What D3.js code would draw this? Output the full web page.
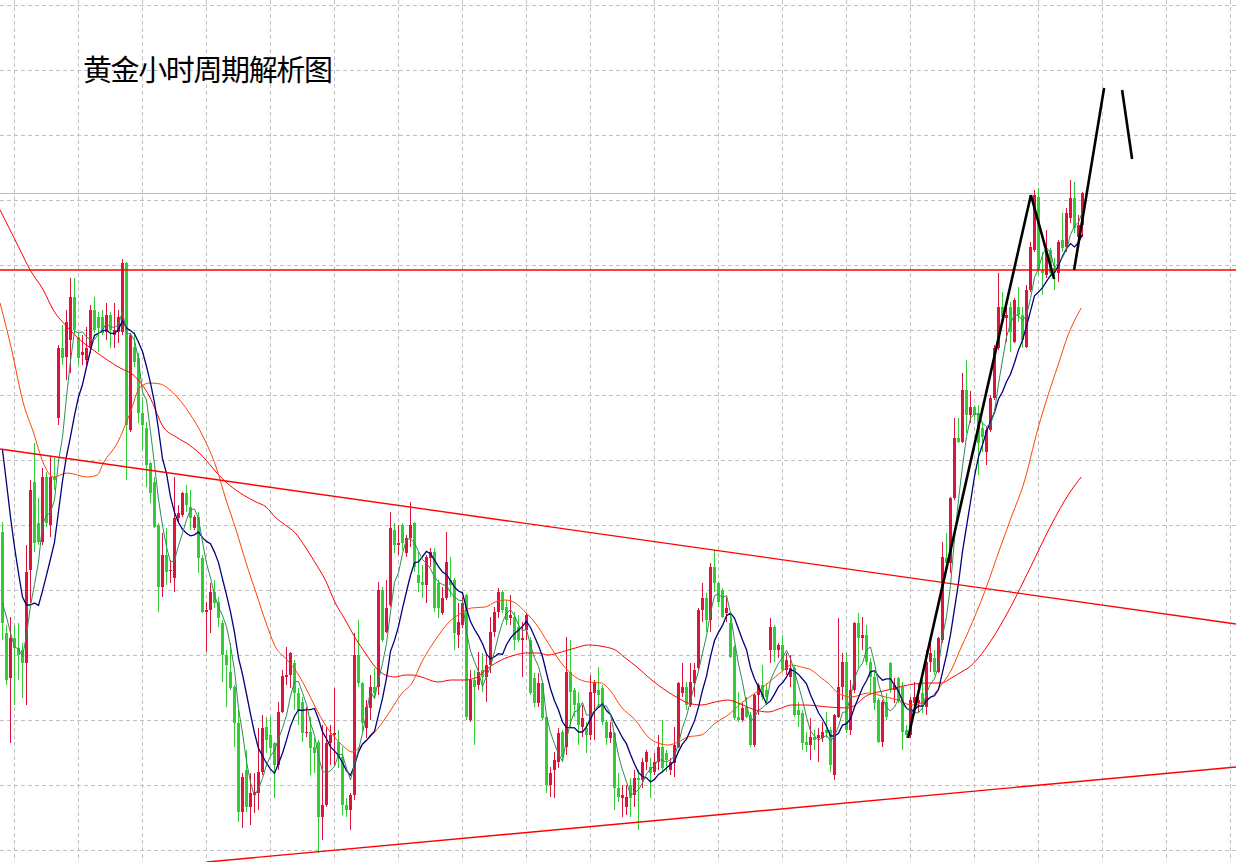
<!DOCTYPE html>
<html><head><meta charset="utf-8">
<script src="https://cdn.jsdelivr.net/npm/d3@7"></script>
<style>html,body{margin:0;padding:0;background:#fff;overflow:hidden}</style>
</head><body>
<svg id="chart" width="1236" height="862"></svg>
<script>
// ---- hourly gold candles (index 0..270) ----
const opens = [
2333.0,2322.9,2318.4,2322.4,2321.4,2321.2,2319.9,2329.2,2338.0,2333.9,2332.0,2338.5,2333.7,2338.5,2344.4,2351.4,2350.5,2352.2,2356.5,2352.5,
2350.7,2350.2,2351.4,2355.2,2354.5,2354.5,2353.0,2354.7,2352.7,2353.0,2353.0,2359.9,2343.2,2351.5,2350.4,2344.9,2343.4,2339.9,2338.0,2333.7,
2327.5,2330.7,2329.1,2328.4,2334.4,2334.7,2336.9,2335.5,2333.4,2334.5,2330.4,2325.0,2325.2,2327.0,2326.0,2323.9,2320.7,2319.0,2317.5,2313.9,
2305.0,2309.2,2305.5,2306.7,2306.9,2309.0,2313.5,2312.7,2311.9,2309.7,2315.0,2318.5,2318.7,2319.9,2316.9,2316.0,2312.9,2313.0,2311.5,2312.0,
2304.5,2305.7,2311.9,2312.7,2312.0,2310.5,2305.7,2305.2,2306.7,2320.7,2317.9,2313.4,2315.4,2317.5,2317.5,2327.2,2323.0,2325.7,2333.2,2331.7,
2333.7,2330.9,2332.4,2333.9,2328.7,2328.0,2327.7,2330.4,2331.0,2327.9,2324.9,2326.4,2328.2,2328.2,2322.7,2323.7,2326.7,2314.2,2318.2,2317.7,
2319.2,2318.5,2319.7,2323.0,2325.0,2327.0,2325.5,2324.4,2324.5,2323.5,2322.2,2323.2,2322.2,2318.4,2315.9,2317.9,2314.5,2307.7,2309.2,2310.0,
2313.0,2311.5,2319.0,2317.2,2315.9,2313.5,2313.4,2312.7,2316.9,2317.2,2317.4,2314.0,2312.4,2312.9,2307.4,2306.4,2305.5,2307.7,2306.7,2308.4,
2308.2,2310.0,2309.5,2309.0,2310.0,2311.5,2310.9,2309.2,2309.9,2311.5,2316.9,2317.5,2315.7,2317.9,2319.4,2325.2,2326.4,2324.2,2329.5,2327.9,
2327.2,2324.9,2323.9,2321.5,2314.5,2314.2,2315.5,2314.7,2311.7,2316.7,2317.7,2317.2,2321.2,2323.5,2321.2,2321.7,2319.2,2318.5,2319.4,2315.2,
2314.9,2312.0,2311.7,2312.5,2312.4,2312.4,2313.2,2313.2,2308.7,2314.5,2317.5,2320.0,2313.2,2317.2,2323.9,2322.4,2322.7,2320.0,2318.5,2316.2,
2312.0,2316.0,2319.9,2317.2,2318.4,2317.5,2313.2,2312.7,2315.9,2315.9,2316.9,2315.5,2320.0,2320.4,2319.0,2322.2,2330.4,2329.9,2336.4,2342.4,
2342.0,2347.2,2344.7,2345.5,2344.9,2343.4,2341.0,2343.2,2346.4,2351.4,2355.5,2354.4,2355.5,2352.0,2355.5,2354.7,2351.5,2357.2,2361.2,2366.5,
2359.2,2358.7,2361.2,2359.4,2358.9,2362.2,2361.5,2364.4,2366.4,2362.5,2363.7];
const highs = [
2334.0,2323.7,2324.5,2323.7,2323.9,2321.9,2331.7,2338.2,2341.9,2336.4,2339.4,2339.0,2340.5,2340.4,2351.7,2353.7,2355.2,2358.4,2358.4,2352.9,
2352.7,2353.5,2355.7,2356.5,2355.0,2355.2,2355.9,2355.0,2355.9,2355.2,2360.3,2360.0,2352.9,2353.0,2350.9,2346.5,2344.0,2340.0,2338.5,2333.9,
2332.9,2333.4,2330.2,2338.5,2335.7,2337.0,2337.7,2337.2,2334.7,2335.0,2330.7,2326.0,2327.9,2328.2,2326.5,2324.2,2321.2,2321.9,2317.7,2315.2,
2308.9,2311.2,2308.9,2308.9,2313.4,2314.7,2314.5,2314.5,2312.0,2316.0,2319.2,2321.5,2321.0,2320.2,2317.4,2316.5,2315.5,2314.5,2312.4,2312.2,
2313.7,2313.5,2313.7,2317.4,2313.2,2311.5,2306.4,2306.9,2322.9,2324.2,2318.0,2316.2,2318.7,2319.4,2328.0,2327.5,2328.2,2335.0,2333.9,2333.7,
2333.9,2332.7,2336.0,2334.0,2331.0,2329.7,2330.7,2331.4,2331.4,2328.2,2327.5,2333.0,2330.5,2328.4,2325.9,2326.5,2326.8,2319.2,2319.2,2321.0,
2320.9,2320.9,2324.5,2325.5,2327.4,2327.2,2326.2,2326.7,2325.0,2324.7,2324.0,2324.9,2322.5,2318.9,2318.9,2318.0,2314.7,2309.5,2311.0,2313.4,
2313.2,2322.5,2322.2,2317.4,2317.0,2315.7,2314.0,2318.7,2318.2,2319.5,2317.7,2314.2,2314.0,2313.0,2308.9,2307.7,2307.7,2308.4,2309.2,2309.2,
2310.4,2311.2,2310.4,2310.9,2312.7,2314.2,2311.2,2310.4,2313.5,2318.0,2319.9,2318.0,2319.9,2319.9,2325.4,2327.9,2326.9,2329.9,2331.2,2328.0,
2327.4,2326.5,2325.0,2321.7,2317.0,2315.9,2316.5,2315.0,2316.9,2317.9,2319.7,2317.9,2324.4,2323.7,2321.9,2322.7,2320.9,2320.7,2319.7,2316.0,
2315.2,2313.0,2314.4,2313.2,2313.4,2314.0,2315.0,2313.5,2314.8,2324.4,2320.9,2320.9,2318.2,2324.0,2324.9,2324.5,2323.7,2320.4,2319.0,2316.4,
2316.2,2316.9,2320.0,2318.4,2318.5,2318.0,2313.7,2316.5,2318.0,2317.9,2318.2,2321.2,2322.5,2321.2,2322.5,2332.0,2332.9,2336.5,2344.4,2344.4,
2348.9,2350.2,2347.1,2345.7,2345.7,2344.0,2343.5,2346.7,2351.7,2358.9,2357.0,2356.0,2356.0,2356.4,2357.5,2355.5,2357.7,2362.0,2367.2,2367.4,
2361.0,2363.2,2361.4,2360.4,2362.2,2364.9,2365.4,2368.2,2368.0,2364.7,2367.0];
const lows = [
2322.2,2317.7,2311.9,2315.7,2318.2,2316.4,2315.7,2325.9,2331.0,2331.7,2331.7,2333.5,2332.5,2337.2,2343.7,2349.7,2348.2,2348.9,2352.9,2349.7,
2349.7,2349.7,2350.9,2352.9,2351.0,2352.7,2352.2,2351.4,2351.4,2351.9,2352.7,2338.2,2343.0,2349.5,2343.9,2341.2,2337.5,2335.9,2333.4,2325.0,
2326.5,2327.7,2327.9,2327.0,2333.9,2334.5,2335.0,2333.2,2333.2,2328.9,2324.9,2321.0,2322.9,2325.4,2323.5,2318.0,2315.5,2317.2,2311.5,2304.0,
2303.4,2305.0,2303.7,2304.9,2305.2,2308.7,2310.9,2310.7,2306.4,2309.2,2314.9,2317.7,2317.4,2315.2,2313.7,2312.0,2312.5,2308.7,2308.9,2300.9,
2302.2,2305.5,2309.7,2309.7,2309.4,2304.7,2304.5,2303.2,2306.2,2317.5,2313.0,2312.4,2314.2,2316.4,2316.7,2322.0,2322.9,2325.5,2330.9,2330.7,
2331.2,2330.5,2331.5,2329.0,2327.0,2326.4,2325.9,2329.5,2325.0,2324.4,2324.7,2326.2,2326.5,2321.2,2321.4,2323.4,2314.2,2314.0,2311.7,2317.2,
2317.0,2316.0,2318.9,2322.5,2324.4,2324.9,2323.7,2323.7,2321.2,2322.0,2318.5,2322.2,2316.7,2315.5,2315.5,2314.2,2306.9,2306.5,2306.4,2309.4,
2310.2,2310.7,2313.5,2314.5,2311.7,2312.5,2310.9,2312.2,2312.2,2315.5,2313.7,2311.7,2311.9,2305.2,2306.0,2304.5,2304.7,2304.5,2305.5,2303.2,
2307.4,2309.2,2306.4,2308.7,2309.2,2308.9,2309.0,2308.7,2308.5,2311.4,2316.5,2315.2,2315.5,2316.5,2319.2,2324.0,2323.0,2323.0,2327.0,2325.5,
2324.4,2324.0,2320.4,2314.2,2314.0,2314.0,2314.4,2311.5,2311.5,2314.7,2316.2,2315.7,2319.9,2320.0,2320.4,2319.0,2318.7,2317.5,2314.5,2313.5,
2311.2,2311.0,2310.2,2311.2,2310.0,2312.0,2312.4,2309.0,2308.2,2314.4,2316.2,2312.9,2312.7,2316.9,2319.4,2321.2,2319.7,2316.9,2315.2,2311.9,
2311.5,2314.2,2316.9,2315.9,2315.9,2311.2,2312.4,2312.4,2315.2,2315.0,2314.9,2314.7,2319.0,2318.7,2318.9,2321.9,2329.2,2328.9,2336.2,2341.9,
2341.9,2342.9,2343.9,2344.2,2338.7,2341.0,2339.7,2343.0,2346.2,2351.2,2353.9,2352.0,2351.0,2351.9,2354.0,2351.4,2351.4,2357.0,2361.0,2358.7,
2356.7,2358.4,2358.5,2357.2,2358.0,2361.0,2361.0,2363.9,2362.9,2362.4,2362.5];
const closes = [
2323.9,2318.2,2322.4,2321.4,2320.7,2319.9,2329.0,2337.2,2331.9,2332.0,2338.5,2333.9,2338.5,2338.2,2351.4,2350.4,2354.0,2356.5,2353.2,2350.4,
2351.0,2351.4,2355.2,2353.2,2353.4,2352.9,2354.7,2353.2,2353.2,2354.5,2359.9,2343.7,2352.7,2350.0,2344.9,2343.7,2339.7,2336.9,2333.5,2327.5,
2330.7,2329.0,2329.2,2334.4,2334.9,2336.9,2335.7,2334.4,2334.5,2330.4,2325.0,2325.2,2327.0,2325.9,2324.4,2320.7,2319.7,2317.4,2313.9,2305.0,
2308.5,2305.5,2306.9,2307.0,2309.0,2313.4,2312.2,2311.4,2309.7,2315.0,2318.6,2318.7,2320.9,2316.9,2315.2,2312.9,2313.0,2311.4,2310.9,2304.5,
2305.7,2311.9,2312.7,2312.9,2310.5,2305.7,2305.2,2306.7,2320.7,2317.9,2313.9,2315.5,2317.5,2316.9,2327.2,2322.2,2325.4,2333.4,2331.7,2331.9,
2331.9,2332.4,2333.7,2329.5,2327.9,2327.7,2330.5,2331.0,2325.4,2325.4,2326.4,2330.0,2327.7,2322.9,2324.0,2325.9,2314.5,2318.2,2317.5,2319.0,
2318.5,2319.7,2323.0,2325.0,2327.0,2325.2,2324.2,2324.7,2322.2,2322.2,2322.4,2324.7,2316.9,2315.9,2317.9,2314.4,2307.7,2308.9,2310.2,2312.9,
2310.5,2319.0,2317.0,2315.7,2313.7,2314.4,2312.7,2317.0,2317.9,2316.7,2314.0,2312.4,2313.0,2307.4,2306.5,2306.7,2306.5,2306.4,2308.4,2308.2,
2310.0,2311.0,2308.9,2310.0,2311.5,2309.4,2310.2,2310.0,2311.7,2317.9,2317.5,2315.7,2318.0,2319.2,2325.2,2326.4,2324.2,2329.5,2327.9,2326.0,
2324.5,2325.4,2320.5,2314.4,2314.2,2315.4,2314.5,2311.7,2316.7,2317.7,2316.5,2316.5,2323.5,2321.2,2321.7,2319.2,2320.2,2319.4,2314.7,2314.7,
2311.9,2311.7,2312.5,2312.2,2312.7,2313.0,2312.9,2309.7,2314.7,2317.5,2320.0,2313.2,2317.2,2323.9,2322.4,2322.7,2320.0,2318.5,2315.9,2312.0,
2316.0,2314.5,2317.2,2317.7,2316.2,2313.0,2312.7,2316.2,2316.5,2316.2,2315.5,2320.0,2320.9,2319.0,2322.4,2330.5,2329.9,2336.4,2342.4,2342.0,
2347.2,2344.7,2345.5,2344.7,2341.9,2342.5,2343.2,2346.4,2351.4,2355.5,2354.5,2354.7,2353.0,2356.2,2354.7,2352.2,2357.2,2361.5,2366.7,2359.2,
2358.9,2361.0,2358.9,2359.0,2362.0,2361.4,2364.9,2366.4,2363.4,2363.7,2366.9];

// fast averages: values before the first full window
const ma5Lead = [2325.9, 2324.5, 2322.9, 2321.5];
const ma10Lead = [2341.2, 2337.9, 2334.5, 2331.5, 2328.9, 2326.5, 2325.7, 2325.7, 2325.9];

// slow averages: [bar index, price]
const maMidPoints = [
[-0.6,2355.9],[2.3,2351.2],[5.2,2345.9],[7.7,2343.0],[10.2,2339.9],[12.7,2338.5],[16.2,2338.9],[21.2,2338.5],[23.7,2338.7],[25.2,2339.9],
[28.7,2341.9],[31.9,2344.9],[34.4,2347.5],[36.9,2347.9],[39.4,2347.8],[42.7,2346.9],[46.7,2344.9],[50.2,2342.5],[53.4,2339.5],[55.9,2336.2],
[58.4,2333.2],[60.9,2329.9],[63.4,2326.9],[65.9,2323.9],[68.4,2321.4],[70.7,2320.4],[73.2,2319.2],[75.7,2317.5],[78.2,2315.5],[80.7,2313.7],
[83.2,2312.4],[85.4,2311.5],[87.4,2311.0],[89.9,2311.7],[92.4,2312.7],[94.9,2313.9],[97.4,2315.4],[99.9,2316.9],[102.4,2317.9],[104.7,2319.9],
[108.2,2322.2],[111.4,2323.9],[114.7,2324.9],[117.2,2325.4],[120.7,2325.5],[123.2,2326.0],[125.7,2326.2],[128.2,2325.9],[130.7,2325.0],[133.2,2323.9],
[136.4,2321.9],[139.7,2319.9],[143.2,2318.5],[146.4,2318.0],[149.7,2317.9],[152.2,2317.0],[154.7,2315.5],[158.2,2314.2],[161.4,2312.5],[163.9,2311.9],
[166.4,2311.7],[168.9,2312.0],[171.4,2312.5],[174.7,2312.7],[178.2,2313.9],[181.4,2314.7],[184.7,2315.9],[188.2,2316.9],[191.4,2317.9],[194.7,2319.0],
[197.2,2319.7],[199.7,2319.5],[202.2,2319.2],[204.7,2318.4],[206.4,2317.9],[208.9,2316.9],[212.2,2316.5],[216.4,2316.9],[220.7,2316.5],[223.9,2316.2],
[227.2,2315.7],[229.7,2315.9],[232.2,2316.5],[234.7,2317.7],[237.2,2319.2],[239.7,2321.5],[241.4,2323.0],[245.7,2327.2],[249.4,2331.4],[252.4,2334.7],
[255.2,2337.7],[258.9,2343.4],[261.4,2346.7],[263.9,2349.7],[266.4,2352.7],[269.7,2355.4]];
const maSlowPoints = [
[-0.6,2365.2],[4.4,2361.2],[6.9,2359.2],[10.2,2357.2],[12.7,2355.2],[16.2,2353.5],[19.4,2352.2],[22.7,2351.2],[26.2,2350.2],[29.4,2349.4],
[32.7,2348.7],[36.7,2346.6],[40.2,2343.5],[43.4,2342.5],[46.7,2341.7],[50.2,2340.5],[53.4,2339.0],[56.7,2337.7],[60.2,2336.7],[63.4,2336.0],
[65.9,2335.5],[68.4,2334.4],[70.7,2333.7],[73.2,2332.9],[75.7,2331.5],[78.2,2329.9],[80.7,2328.2],[83.2,2325.9],[85.7,2324.2],[88.2,2322.4],
[90.7,2320.9],[93.2,2319.5],[95.7,2318.7],[98.2,2318.5],[100.7,2318.7],[102.4,2318.7],[104.7,2318.5],[108.9,2318.0],[112.2,2318.2],[115.7,2318.2],
[118.2,2318.4],[121.4,2319.4],[124.7,2320.2],[128.2,2320.7],[130.7,2320.9],[133.9,2320.9],[136.4,2320.7],[139.7,2321.0],[143.2,2321.4],[146.4,2321.7],
[150.7,2321.5],[153.2,2321.2],[155.7,2320.4],[158.9,2319.4],[161.4,2318.5],[163.9,2317.7],[166.4,2317.0],[168.9,2316.4],[171.4,2315.9],[174.7,2315.7],
[178.2,2316.0],[181.4,2316.2],[183.9,2315.9],[188.2,2315.2],[191.4,2315.0],[194.7,2315.4],[197.2,2315.7],[200.7,2315.7],[206.4,2315.5],[211.4,2315.4],
[216.4,2316.7],[221.4,2317.2],[226.4,2317.7],[231.4,2317.9],[234.7,2317.9],[237.2,2318.4],[239.7,2319.0],[241.4,2319.4],[246.9,2322.0],[251.9,2325.4],
[256.9,2329.4],[261.9,2333.5],[266.9,2337.0],[269.7,2338.5]];

// drawn objects: [bar index, price]
const upperTrend = [[-0.6,2341.3],[308.4,2323.8]];
const lowerTrend = [[51.1,2300.0],[308.4,2309.5]];
const blackStrokes = [
  [[226.4,2312.4],[257.1,2366.7]],
  [[257.1,2366.7],[262.9,2358.3]],
  [[267.9,2359.2],[275.4,2377.4]],
  [[279.9,2377.2],[282.4,2370.3]]
];
const resistancePrice = 2359.2;
const greyLinePrice = 2366.9;
const hGridPrices = [2385.7,2379.2,2372.7,2366.2,2359.7,2353.2,2346.7,2340.2,2333.7,2327.2,2320.7,2314.2,2307.7,2301.2];
const vGridBars = [2.875,18.875,34.875,50.875,66.875,82.875,98.875,114.875,130.875,146.875,162.875,178.875,194.875,210.875,226.875,242.875,258.875,274.875,290.875,306.875];
const titleText = "黄金小时周期解析图";

// ---- drawing ----
const W = 1236, H = 862;
const svg = d3.select("#chart");
svg.append("rect").attr("width", W).attr("height", H).attr("fill", "#fff");

const x = d3.scaleLinear().domain([0, 270]).range([2.5, 1082.5]);
const y = d3.scaleLinear().domain([2300, 2386.2]).range([862, 0]);

const bars = d3.range(closes.length).map(i => ({i, o: opens[i], h: highs[i], l: lows[i], c: closes[i]}));

// grid
const grid = svg.append("g").attr("stroke", "#c0c0c0").attr("stroke-width", 1).attr("stroke-dasharray", "4,3");
grid.selectAll("line.h").data(hGridPrices).join("line").attr("class", "h")
  .attr("x1", 0).attr("x2", W).attr("y1", d => Math.round(y(d)) + 0.5).attr("y2", d => Math.round(y(d)) + 0.5);
grid.selectAll("line.v").data(vGridBars).join("line").attr("class", "v")
  .attr("y1", 0).attr("y2", H).attr("x1", d => Math.round(x(d)) + 0.5).attr("x2", d => Math.round(x(d)) + 0.5);

// grey price line
svg.append("line").attr("x1", 0).attr("x2", W)
  .attr("y1", Math.round(y(greyLinePrice)) + 0.5).attr("y2", Math.round(y(greyLinePrice)) + 0.5)
  .attr("stroke", "#bdbdbd").attr("stroke-width", 1.2);

// candles
const UP = "#dc143c", DN = "#32cd32";
const cg = svg.append("g");
cg.selectAll("line.wick").data(bars).join("line").attr("class", "wick")
  .attr("x1", d => x(d.i)).attr("x2", d => x(d.i))
  .attr("y1", d => y(d.h)).attr("y2", d => y(d.l))
  .attr("stroke", d => d.c >= d.o ? UP : DN).attr("stroke-width", 1);
cg.selectAll("rect.body").data(bars).join("rect").attr("class", "body")
  .attr("x", d => x(d.i) - 1.5).attr("width", 3)
  .attr("y", d => y(Math.max(d.o, d.c)))
  .attr("height", d => Math.max(1, Math.abs(y(d.o) - y(d.c))))
  .attr("fill", d => d.c >= d.o ? UP : DN);

// moving averages
function sma(period, lead) {
  return closes.map((c, i) => i < period - 1 ? lead[i] : d3.mean(closes.slice(i - period + 1, i + 1)));
}
const ma5 = sma(5, ma5Lead);
const ma10 = sma(10, ma10Lead);
const lineIdx = d3.line().x((d, i) => x(i)).y(d => y(d));
const linePts = d3.line().x(d => x(d[0])).y(d => y(d[1])).curve(d3.curveMonotoneX);

svg.append("path").attr("d", linePts(maSlowPoints)).attr("fill", "none").attr("stroke", "#ff0000").attr("stroke-width", 1);
svg.append("path").attr("d", linePts(maMidPoints)).attr("fill", "none").attr("stroke", "#ff4500").attr("stroke-width", 1);
svg.append("path").attr("d", lineIdx(ma10)).attr("fill", "none").attr("stroke", "#000080").attr("stroke-width", 1.3);
svg.append("path").attr("d", lineIdx(ma5)).attr("fill", "none").attr("stroke", "#2e8b57").attr("stroke-width", 1);

// trend lines and resistance
const seg = d3.line().x(d => x(d[0])).y(d => y(d[1]));
svg.append("path").attr("d", seg(upperTrend)).attr("stroke", "#ff0000").attr("stroke-width", 1.4).attr("fill", "none");
svg.append("path").attr("d", seg(lowerTrend)).attr("stroke", "#ff0000").attr("stroke-width", 1.4).attr("fill", "none");
svg.append("line").attr("x1", 0).attr("x2", W).attr("y1", y(resistancePrice)).attr("y2", y(resistancePrice))
  .attr("stroke", "#ff0000").attr("stroke-width", 1.5);

// hand-drawn black strokes
svg.append("g").selectAll("path").data(blackStrokes).join("path")
  .attr("d", d => seg(d)).attr("stroke", "#000").attr("stroke-width", 2.6).attr("fill", "none");

// title
svg.append("text").attr("x", 83).attr("y", 81)
  .attr("font-family", "'Noto Sans CJK SC', sans-serif").attr("font-size", 29)
  .attr("textLength", 250).attr("fill", "#000").text(titleText);
</script>
</body></html>
